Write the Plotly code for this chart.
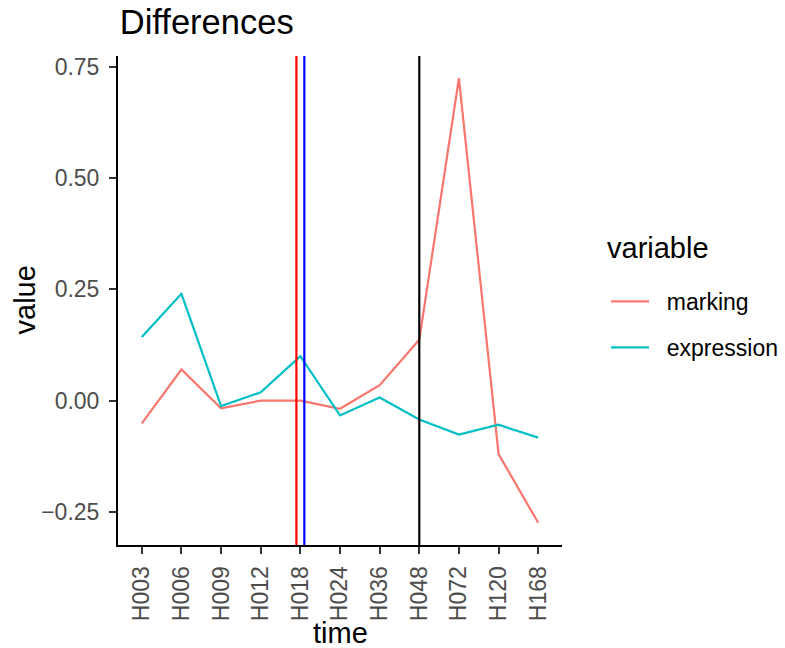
import plotly.graph_objects as go

times = ["H003", "H006", "H009", "H012", "H018", "H024", "H036", "H048", "H072", "H120", "H168"]
marking = [-0.051, 0.070, -0.017, 0.000, 0.000, -0.018, 0.035, 0.137, 0.724, -0.120, -0.274]
expression = [0.143, 0.240, -0.012, 0.019, 0.100, -0.033, 0.007, -0.042, -0.076, -0.054, -0.083]
series_names = ["marking", "expression"]
vline_pos = [3.9, 4.1, 7.0]
vline_colors = ["#FF0000", "#0000FF", "#000000"]

xidx = list(range(len(times)))
FONT = "Liberation Sans"
L, R, T, B = 118, 223, 56, 103
PW, PH = 785 - L - R, 648 - T - B
PAD = "\u00a0\u00a0"

fig = go.Figure()
fig.add_trace(go.Scatter(x=xidx, y=marking, mode="lines", name=PAD + series_names[0],
                         line=dict(color="#F8766D", width=2.2), legendgroup="a"))
fig.add_trace(go.Scatter(x=xidx, y=expression, mode="lines", name=PAD + series_names[1],
                         line=dict(color="#00BFC4", width=2.2), legendgroup="b"))

for xv, c in zip(vline_pos, vline_colors):
    fig.add_shape(type="line", xref="x", yref="paper", x0=xv, x1=xv, y0=0, y1=1,
                  line=dict(color=c, width=2.2), layer="above")

fig.update_layout(
    width=785, height=648,
    margin=dict(l=L, r=R, t=T, b=B, autoexpand=False),
    paper_bgcolor="white", plot_bgcolor="white",
    font=dict(family=FONT, color="#000000"),
    title=dict(text="Differences", font=dict(size=34.5, color="#000000", family=FONT),
               xref="paper", x=0.004, xanchor="left",
               yref="container", y=1 - 22 / 648, yanchor="middle"),
    showlegend=True,
    legend=dict(x=(606 - L) / PW, xanchor="left", y=1 - (280 - T) / PH, yanchor="top",
                font=dict(size=23, color="#000000"), itemwidth=38,
                tracegroupgap=13, bgcolor="rgba(0,0,0,0)"),
    xaxis=dict(range=[-0.6, 10.6], tickmode="array", tickvals=xidx, ticktext=times,
               tickangle=-90, showgrid=False, zeroline=False,
               showline=True, linecolor="#000000", linewidth=2,
               ticks="outside", ticklen=7, tickwidth=2, tickcolor="#333333",
               ticklabelstandoff=3,
               tickfont=dict(size=23, color="#4D4D4D", family=FONT)),
    yaxis=dict(range=[-0.324, 0.774], tickmode="array",
               tickvals=[-0.25, 0, 0.25, 0.5, 0.75],
               ticktext=["\u22120.25", "0.00", "0.25", "0.50", "0.75"],
               showgrid=False, zeroline=False,
               showline=True, linecolor="#000000", linewidth=2,
               ticks="outside", ticklen=7, tickwidth=2, tickcolor="#333333",
               ticklabelstandoff=5,
               tickfont=dict(size=23, color="#4D4D4D", family=FONT)),
    annotations=[
        dict(text="time", xref="paper", yref="paper", x=0.5, y=-(633 - 545) / PH,
             xanchor="center", yanchor="middle", showarrow=False,
             font=dict(size=29, color="#000000", family=FONT)),
        dict(text="value", xref="paper", yref="paper", x=-(118 - 24) / PW, y=0.5,
             xanchor="center", yanchor="middle", textangle=-90, showarrow=False,
             font=dict(size=29, color="#000000", family=FONT)),
        dict(text="variable", xref="paper", yref="paper", x=(605 - L) / PW, y=1 - (248 - T) / PH,
             xanchor="left", yanchor="middle", showarrow=False,
             font=dict(size=29, color="#000000", family=FONT)),
    ],
)

fig.write_html("out.html", config={"displayModeBar": False},
               post_script="document.body.style.margin='0';")
